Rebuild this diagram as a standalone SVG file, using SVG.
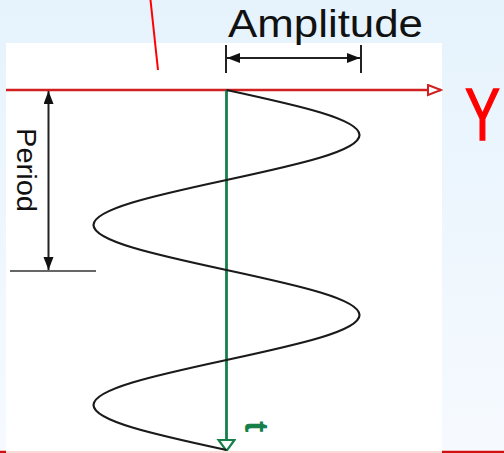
<svg xmlns="http://www.w3.org/2000/svg" width="504" height="453" viewBox="0 0 504 453">
  <defs>
    <linearGradient id="bg" x1="0" y1="0" x2="0" y2="1">
      <stop offset="0" stop-color="#e6f3fc"/>
      <stop offset="1" stop-color="#f6faff"/>
    </linearGradient>
    <marker id="openRed" markerUnits="userSpaceOnUse" markerWidth="16" markerHeight="14" refX="14" refY="6" orient="auto">
      <path d="M1,1 L14,6 L1,11 Z" fill="#ffffff" stroke="#d02020" stroke-width="2"/>
    </marker>
    <marker id="openGreen" markerUnits="userSpaceOnUse" markerWidth="16" markerHeight="20" refX="12" refY="9" orient="auto">
      <path d="M1,1 L12,9 L1,17 Z" fill="#ffffff" stroke="#17804a" stroke-width="2.2"/>
    </marker>
    <marker id="solid" markerUnits="userSpaceOnUse" markerWidth="14" markerHeight="12" refX="13" refY="5" orient="auto-start-reverse">
      <path d="M0,0 L13,5 L0,10 Z" fill="#111111"/>
    </marker>
    <style>
      .dim { stroke: #222222; stroke-width: 2; fill: none; }
      .thin { stroke: #333333; stroke-width: 1.6; fill: none; }
      .wave { stroke: #1a1a1a; stroke-width: 2.2; fill: none; }
      .lbl { font-family: "Liberation Sans", Arial, sans-serif; fill: #111111; }
    </style>
  </defs>

  <rect x="0" y="0" width="504" height="453" fill="url(#bg)"/>
  <rect x="6" y="43" width="436" height="410" fill="#ffffff"/>

  <g id="connectors">
    <line x1="150.5" y1="0" x2="158" y2="70" stroke="#ff0000" stroke-width="2"/>
    <line x1="6" y1="90" x2="441" y2="90" stroke="#d02020" stroke-width="2.5" marker-end="url(#openRed)"/>
    <line x1="226.5" y1="90" x2="226.5" y2="451" stroke="#17804a" stroke-width="2.8" marker-end="url(#openGreen)"/>
    <line x1="0" y1="452" x2="6" y2="452" stroke="#d01010" stroke-width="2.5"/>
    <line x1="6" y1="452" x2="442" y2="452" stroke="#fbdada" stroke-width="2"/>
    <line x1="442" y1="452" x2="504" y2="452" stroke="#d01010" stroke-width="2.5"/>
  </g>

  <g id="wave">
    <path class="wave" d="M226.5,90 C299.96,105.82 359.5,119.18 359.5,135 C359.5,150.82 299.96,164.18 226.5,180 C153.04,195.82 93.5,209.18 93.5,225 C93.5,240.82 153.04,254.18 226.5,270 C299.96,285.82 359.5,299.18 359.5,315 C359.5,330.82 299.96,344.18 226.5,360 C153.04,375.82 93.5,389.18 93.5,405 C93.5,420.82 153.04,434.18 226.5,450"/>
  </g>

  <g id="amplitude">
    <line class="dim" x1="226" y1="45" x2="226" y2="73"/>
    <line class="dim" x1="361" y1="45" x2="361" y2="73"/>
    <line class="dim" x1="227" y1="58" x2="360" y2="58" marker-start="url(#solid)" marker-end="url(#solid)"/>
    <text class="lbl" x="228" y="37" font-size="38" textLength="195" lengthAdjust="spacingAndGlyphs">Amplitude</text>
  </g>

  <g id="period">
    <line class="thin" x1="10" y1="271" x2="96" y2="271"/>
    <line class="dim" x1="48.5" y1="91" x2="48.5" y2="270" marker-start="url(#solid)" marker-end="url(#solid)"/>
    <text class="lbl" font-size="28" transform="translate(17,128) rotate(90)" textLength="84" lengthAdjust="spacingAndGlyphs">Period</text>
  </g>

  <g id="label-y">
    <text x="465" y="140" font-family="'Liberation Sans', Arial, sans-serif" font-size="74" fill="#ff0000" stroke="#ff0000" stroke-width="1.5" textLength="35" lengthAdjust="spacingAndGlyphs">Y</text>
  </g>

  <g id="label-t">
    <text x="0" y="0" font-family="'Liberation Sans', Arial, sans-serif" font-weight="bold" font-size="34" fill="#17804a" transform="translate(245,421) rotate(90)">t</text>
  </g>
</svg>
